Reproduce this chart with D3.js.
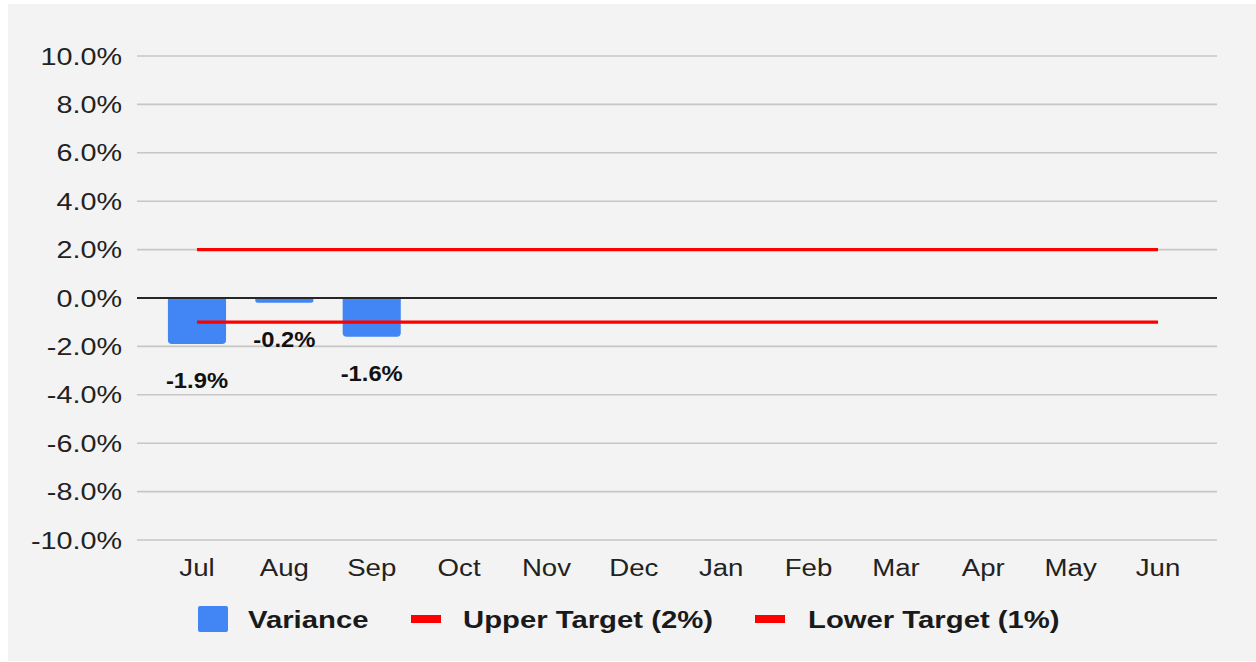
<!DOCTYPE html>
<html>
<head>
<meta charset="utf-8">
<script src="https://cdn.jsdelivr.net/npm/d3@7"></script>
<style>
  body { margin: 0; background: #fff; }
  text { font-family: "Liberation Sans", Arial, sans-serif; fill: #222; }
</style>
</head>
<body>
<svg></svg>
<script>
const width = 1256;
const height = 662;

// data
const months = ["Jul", "Aug", "Sep", "Oct", "Nov", "Dec", "Jan", "Feb", "Mar", "Apr", "May", "Jun"];
const variance = [-1.9, -0.2, -1.6];
const upperTarget = 2;
const lowerTarget = -1;
const yTicks = [10, 8, 6, 4, 2, 0, -2, -4, -6, -8, -10];
const legendItems = ["Variance", "Upper Target (2%)", "Lower Target (1%)"];

const blue = "#4285f4";
const red = "#ff0000";

const fmt = v => d3.format(".1f")(v).replace("\u2212", "-") + "%";

const svg = d3.select("svg")
  .attr("width", width)
  .attr("height", height);

svg.append("rect")
  .attr("x", 8).attr("y", 4)
  .attr("width", width - 8).attr("height", height - 5)
  .attr("fill", "#f3f3f3");

const xScale = d3.scaleBand()
  .domain(months)
  .range([153.3, 1201.7])
  .paddingInner(0.335)
  .paddingOuter(0.1675);

const yScale = d3.scaleLinear()
  .domain([-10, 10])
  .range([540, 56]);

const gridLeft = 137, gridRight = 1217;

// the glyphs in the picture are drawn wider than normal
function stretch(k) {
  return sel => sel.each(function () {
    const w = this.getComputedTextLength();
    d3.select(this)
      .attr("textLength", w * k)
      .attr("lengthAdjust", "spacingAndGlyphs");
  });
}

// gridlines
svg.append("g").selectAll("line")
  .data(yTicks.filter(d => d !== 0)).enter().append("line")
  .attr("x1", gridLeft).attr("x2", gridRight)
  .attr("y1", d => yScale(d)).attr("y2", d => yScale(d))
  .attr("stroke", "#c6c6c6")
  .attr("stroke-width", 1.6);

// y tick labels
svg.append("g").selectAll("text")
  .data(yTicks).enter().append("text")
  .attr("x", 122)
  .attr("y", d => yScale(d) + 8.5)
  .attr("text-anchor", "end")
  .style("font-size", "23px")
  .text(d => fmt(d))
  .call(stretch(1.25));

// bars with rounded bottom corners
const r = 4;
const barPath = d => {
  const x0 = xScale(d.m), w = xScale.bandwidth();
  const y0 = yScale(0), y1 = yScale(d.v);
  const rr = Math.min(r, (y1 - y0) / 2);
  return `M${x0},${y0} L${x0 + w},${y0} L${x0 + w},${y1 - rr} Q${x0 + w},${y1} ${x0 + w - rr},${y1} ` +
         `L${x0 + rr},${y1} Q${x0},${y1} ${x0},${y1 - rr} Z`;
};
const barData = variance.map((v, i) => ({ m: months[i], v }));

svg.append("g").selectAll("path")
  .data(barData).enter().append("path")
  .attr("d", barPath)
  .attr("fill", blue);

// zero line
svg.append("line")
  .attr("x1", gridLeft).attr("x2", gridRight)
  .attr("y1", yScale(0)).attr("y2", yScale(0))
  .attr("stroke", "#262626")
  .attr("stroke-width", 1.8);

// target lines
const center = m => xScale(m) + xScale.bandwidth() / 2;

[upperTarget, lowerTarget].forEach(t => {
  svg.append("path")
    .attr("d", d3.line().x(d => center(d)).y(() => yScale(t))(months))
    .attr("fill", "none")
    .attr("stroke", red)
    .attr("stroke-width", 3.2);
});

// data labels
svg.append("g").selectAll("text")
  .data(barData).enter().append("text")
  .attr("x", d => center(d.m))
  .attr("y", d => yScale(d.v) + 44)
  .attr("text-anchor", "middle")
  .style("font-size", "22px")
  .style("font-weight", "bold")
  .style("fill", "#111")
  .text(d => fmt(d.v))
  .call(stretch(1.08));

// month labels
svg.append("g").selectAll("text")
  .data(months).enter().append("text")
  .attr("x", d => center(d))
  .attr("y", 576)
  .attr("text-anchor", "middle")
  .style("font-size", "23px")
  .text(d => d)
  .call(stretch(1.2));

// legend
const legend = svg.append("g")
  .style("font-size", "24px")
  .style("font-weight", "bold");
legend.append("rect")
  .attr("x", 198).attr("y", 606)
  .attr("width", 30).attr("height", 26)
  .attr("rx", 2)
  .attr("fill", blue);

const textX = [248, 463, 808];
const swatchX = [411, 755];
swatchX.forEach(x => {
  legend.append("rect")
    .attr("x", x).attr("y", 615)
    .attr("width", 30).attr("height", 8)
    .attr("fill", red);
});
legend.selectAll("text")
  .data(legendItems).enter().append("text")
  .attr("x", (d, i) => textX[i])
  .attr("y", 628)
  .style("fill", "#1a1a1a")
  .text(d => d)
  .call(stretch(1.22));
</script>
</body>
</html>
